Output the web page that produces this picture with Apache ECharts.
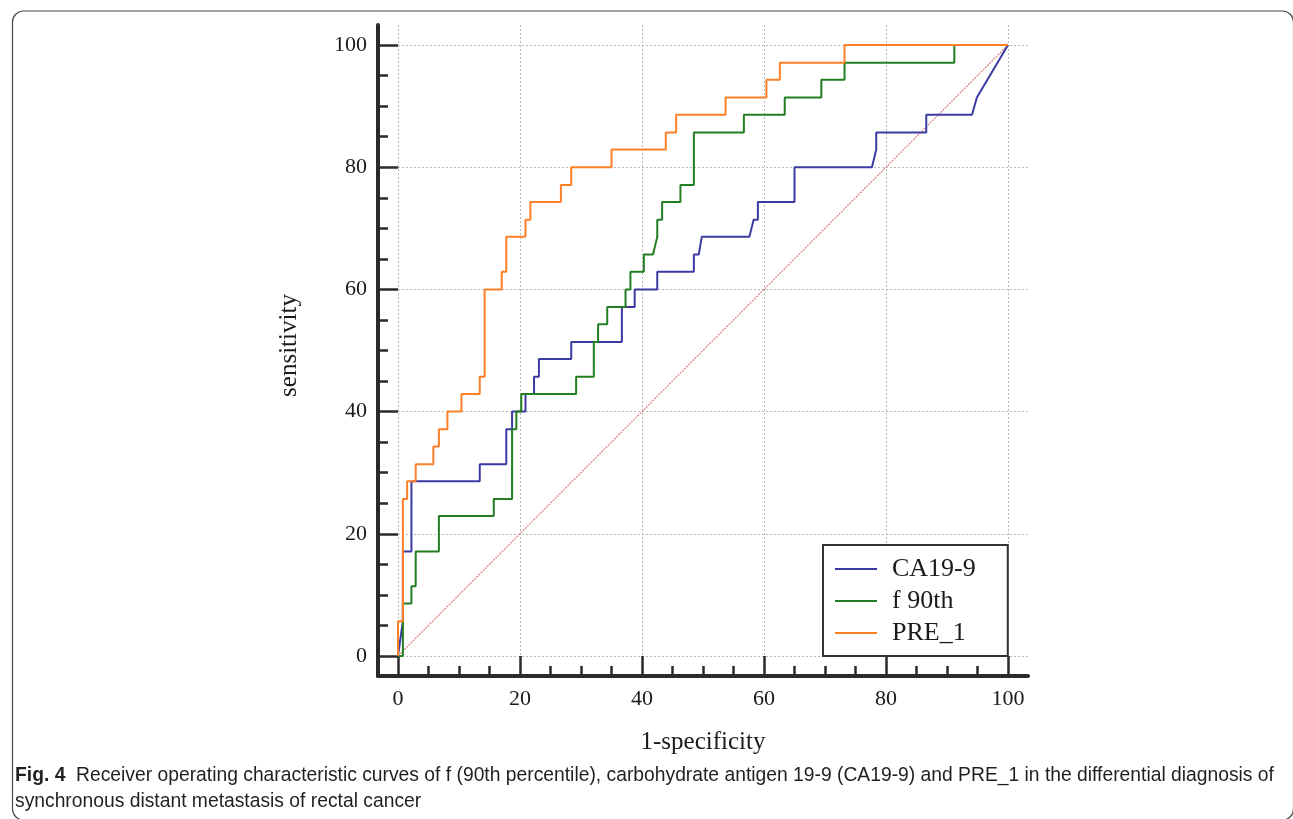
<!DOCTYPE html>
<html>
<head>
<meta charset="utf-8">
<script src="https://cdn.jsdelivr.net/npm/echarts@6/dist/echarts.min.js"></script>
<style>
html,body{margin:0;padding:0;background:#fff;}
#chart{width:1293px;height:819px;}
</style>
</head>
<body>
<div id="chart"></div>
<script>
// ---- data (1-specificity %, sensitivity %) ----
const seriesNames = ['CA19-9', 'f 90th', 'PRE_1'];
const majorTicks = [0, 20, 40, 60, 80, 100];
const minorTicks = [5, 10, 15, 25, 30, 35, 45, 50, 55, 65, 70, 75, 85, 90, 95];
const diagonal = [[0, 0], [100, 100]];
const ca199 = [[0,0],[0.8,5.7],[0.8,17.1],[2.2,17.1],[2.2,28.6],[13.4,28.6],[13.4,31.4],[17.75,31.4],[17.75,37.1],[18.7,37.1],[18.7,40],[20.9,40],[20.9,42.9],[22.3,42.9],[22.3,45.7],[23.1,45.7],[23.1,48.6],[28.4,48.6],[28.4,51.4],[36.7,51.4],[36.7,57.1],[38.8,57.1],[38.8,60],[42.5,60],[42.5,62.9],[48.5,62.9],[48.5,65.7],[49.3,65.7],[49.8,68.6],[57.6,68.6],[58.3,71.4],[59.0,71.4],[59.0,74.3],[65.0,74.3],[65.0,80],[77.7,80],[78.4,82.9],[78.4,85.7],[86.6,85.7],[86.6,88.6],[94.1,88.6],[94.9,91.4],[100,100]];
const f90th = [[0,0],[0.8,0],[0.8,8.6],[2.2,8.6],[2.2,11.4],[2.9,11.4],[2.9,17.1],[6.7,17.1],[6.7,22.9],[15.7,22.9],[15.7,25.7],[18.7,25.7],[18.7,37.1],[19.4,37.1],[19.4,40],[20.2,40],[20.2,42.9],[29.2,42.9],[29.2,45.7],[32.1,45.7],[32.1,51.4],[32.8,51.4],[32.8,54.3],[34.3,54.3],[34.3,57.1],[37.3,57.1],[37.3,60],[38.1,60],[38.1,62.9],[40.3,62.9],[40.3,65.7],[41.8,65.7],[42.5,68.6],[42.5,71.4],[43.3,71.4],[43.3,74.3],[46.3,74.3],[46.3,77.1],[48.5,77.1],[48.5,85.7],[56.7,85.7],[56.7,88.6],[63.4,88.6],[63.4,91.4],[69.4,91.4],[69.4,94.3],[73.2,94.3],[73.2,97.1],[91.2,97.1],[91.2,100],[100,100]];
const pre1 = [[0,0],[0,5.7],[0.8,5.7],[0.8,25.7],[1.5,25.7],[1.5,28.6],[2.9,28.6],[2.9,31.4],[5.8,31.4],[5.8,34.3],[6.7,34.3],[6.7,37.1],[8.1,37.1],[8.1,40],[10.4,40],[10.4,42.9],[13.4,42.9],[13.4,45.7],[14.2,45.7],[14.2,60],[17.0,60],[17.0,62.9],[17.75,62.9],[17.75,68.6],[20.9,68.6],[20.9,71.4],[21.7,71.4],[21.7,74.3],[26.7,74.3],[26.7,77.1],[28.4,77.1],[28.4,80],[35.0,80],[35.0,82.9],[43.9,82.9],[43.9,85.7],[45.6,85.7],[45.6,88.6],[53.7,88.6],[53.7,91.4],[60.4,91.4],[60.4,94.3],[62.6,94.3],[62.6,97.1],[73.2,97.1],[73.2,100],[100,100]];
const xTitle = '1-specificity';
const yTitle = 'sensitivity';
const captionBold = 'Fig. 4';
const captionLine1 = '  Receiver operating characteristic curves of f (90th percentile), carbohydrate antigen 19-9 (CA19-9) and PRE_1 in the differential diagnosis of';
const captionLine2 = 'synchronous distant metastasis of rectal cancer';

const colors = ['#3b3ba3', '#237d23', '#ff7f27'];
const serif = '"Liberation Serif", "DejaVu Serif", serif';
const capFont = '"Liberation Sans", "Noto Sans", sans-serif';
const capSize = 19.3;
const AX_MIN = -3.28, AX_MAX = 103.28;
const axisColor = '#2a2a2a';

function mainAxis(isX) {
  return {
    type: 'value', gridIndex: 0, min: AX_MIN, max: AX_MAX,
    position: isX ? 'bottom' : 'left',
    name: isX ? xTitle : yTitle,
    nameLocation: 'middle',
    nameGap: isX ? 54 : 76,
    nameTextStyle: {fontFamily: serif, fontSize: 25, color: '#1a1a1a',
                    padding: isX ? 0 : [0, 0, 0, 10]},
    axisLine: {show: true, onZero: false, lineStyle: {color: axisColor, width: 4}},
    axisTick: {show: true, inside: true, length: 20, customValues: majorTicks, lineStyle: {color: axisColor, width: 2.5}},
    axisLabel: {show: true, customValues: majorTicks, margin: isX ? 12 : 11, fontFamily: serif, fontSize: 22, color: '#1a1a1a'},
    splitLine: {show: true, lineStyle: {color: '#b8b8b8', width: 1, type: [2, 2]}},
    minorTick: {show: false}
  };
}
function minorAxis(isX) {
  return {
    type: 'value', gridIndex: 0, min: AX_MIN, max: AX_MAX,
    position: isX ? 'bottom' : 'left',
    axisLine: {show: false, onZero: false},
    axisTick: {show: true, inside: true, length: 10, customValues: minorTicks, lineStyle: {color: axisColor, width: 2.5}},
    axisLabel: {show: false},
    splitLine: {show: false}
  };
}

const option = {
  backgroundColor: '#ffffff',
  animation: false,
  grid: {left: 378, top: 25, width: 650, height: 651, containLabel: false, outerBoundsMode: 'none'},
  xAxis: [mainAxis(true), minorAxis(true)],
  yAxis: [mainAxis(false), minorAxis(false)],
  legend: {
    orient: 'vertical', left: 823, top: 545,
    data: seriesNames,
    icon: 'rect', itemWidth: 42, itemHeight: 2, itemGap: 6,
    padding: [11, 32, 10, 12],
    borderColor: '#333', borderWidth: 2, backgroundColor: '#fff',
    textStyle: {fontFamily: serif, fontSize: 26, color: '#1a1a1a', lineHeight: 26, padding: [0, 0, 0, 10]},
    selectedMode: false
  },
  series: [
    {name: 'ref', type: 'line', data: diagonal, showSymbol: false, silent: true,
     lineStyle: {color: '#cf7a68', width: 1.1, type: [2, 1]}, z: 1},
    {name: seriesNames[0], type: 'line', data: ca199, showSymbol: false, color: colors[0],
     lineStyle: {color: colors[0], width: 2}, z: 3},
    {name: seriesNames[1], type: 'line', data: f90th, showSymbol: false, color: colors[1],
     lineStyle: {color: colors[1], width: 2}, z: 4},
    {name: seriesNames[2], type: 'line', data: pre1, showSymbol: false, color: colors[2],
     lineStyle: {color: colors[2], width: 2}, z: 5}
  ],
  graphic: [
    {type: 'rect', left: 10, top: 8.5, shape: {width: 1281, height: 809, r: 11},
     style: {fill: 'none', stroke: '#4a4a4a', lineWidth: 1.2}, silent: true},
    {type: 'text', left: 15, top: 766,
     style: {text: '{b|' + captionBold + '}' + captionLine1, font: capSize + 'px ' + capFont, fill: '#231f20',
             rich: {b: {fontWeight: 'bold', fontFamily: capFont, fontSize: capSize, fill: '#231f20'}}}},
    {type: 'text', left: 15, top: 792,
     style: {text: captionLine2, font: capSize + 'px ' + capFont, fill: '#231f20'}}
  ]
};

const chart = echarts.init(document.getElementById('chart'), null, {renderer: 'canvas'});
chart.setOption(option);
</script>
</body>
</html>
